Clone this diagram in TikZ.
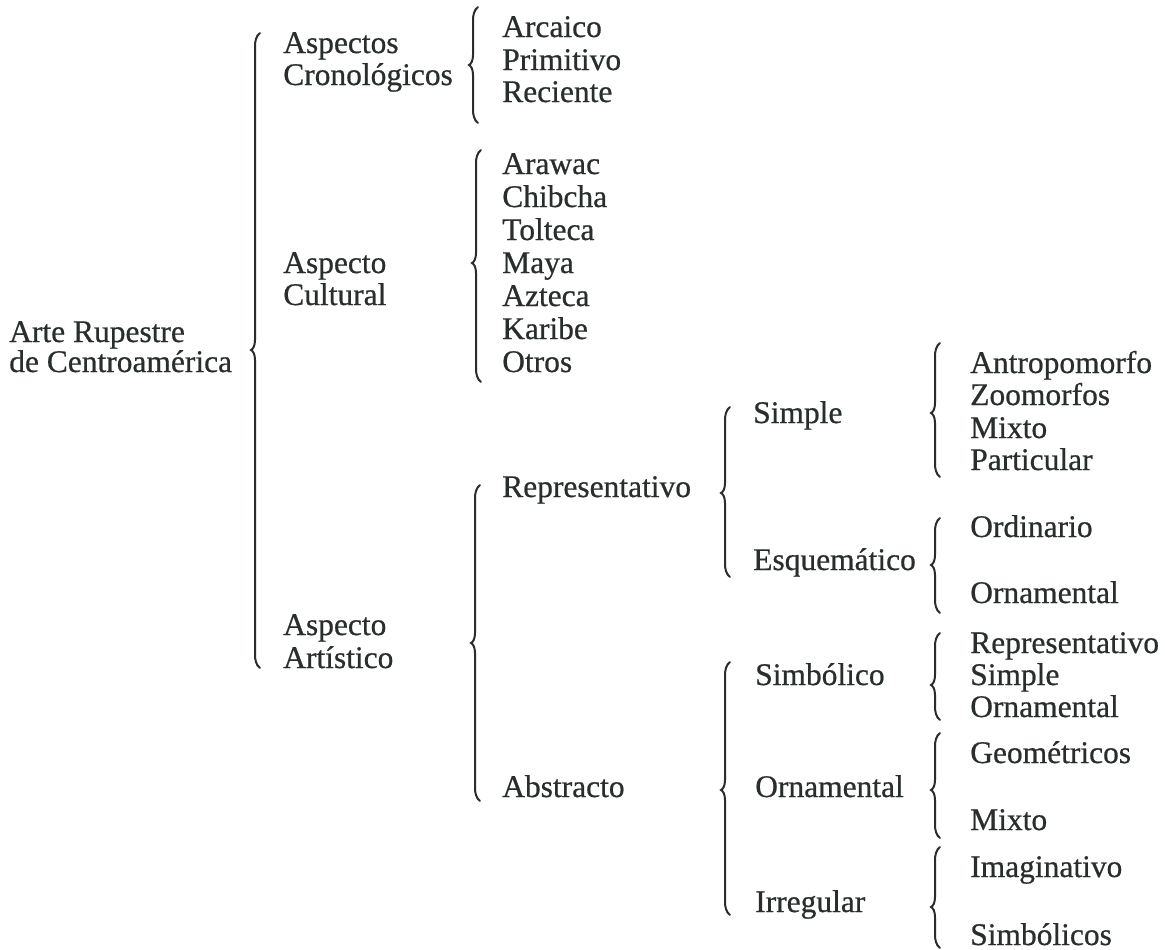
\documentclass[tikz,border=0pt]{standalone}
\usepackage{fontspec}
\setmainfont{Liberation Serif}[FakeBold=0.6]
\definecolor{ink}{RGB}{40,46,44}
\newcommand{\drawbrace}[4]{%
 \draw[bracestyle] (#1+5,#2) .. controls (#1+1,#2+3) and (#1,#2+8) .. (#1,#2+14)
   -- (#1,#3-10) .. controls (#1,#3-4) and (#1-2,#3-1) .. (#1-4,#3)
   .. controls (#1-2,#3+1) and (#1,#3+4) .. (#1,#3+10)
   -- (#1,#4-14) .. controls (#1,#4-8) and (#1+1,#4-3) .. (#1+5,#4);}
\tikzset{
  lbl/.style={anchor=base west, inner sep=0pt, text=ink, font=\fontsize{23.6}{28}\selectfont},
  bracestyle/.style={draw=ink, line width=1.5pt, line cap=round}
}
\begin{document}
\begin{tikzpicture}[x=0.75pt,y=-0.75pt]
\useasboundingbox[fill=white] (0,0) rectangle (1165,950);
% level 0
\node[lbl] (root1) at (9,342) {Arte Rupestre};
\node[lbl] (root2) at (9,372) {de Centroamérica};
% level 1
\node[lbl] (cro1) at (283,53) {Aspectos};
\node[lbl] (cro2) at (283,85) {Cronológicos};
\node[lbl] (cul1) at (283,273) {Aspecto};
\node[lbl] (cul2) at (283,305) {Cultural};
\node[lbl] (art1) at (283,635) {Aspecto};
\node[lbl] (art2) at (283,668) {Artístico};
% chronological
\node[lbl] (arc) at (502,37) {Arcaico};
\node[lbl] (pri) at (502,70) {Primitivo};
\node[lbl] (rec) at (502,102) {Reciente};
% cultural
\node[lbl] (ara) at (502,174) {Arawac};
\node[lbl] (chi) at (502,207) {Chibcha};
\node[lbl] (tol) at (502,240) {Tolteca};
\node[lbl] (may) at (502,273) {Maya};
\node[lbl] (azt) at (502,306) {Azteca};
\node[lbl] (kar) at (502,339) {Karibe};
\node[lbl] (otr) at (502,372) {Otros};
% artistic
\node[lbl] (rep) at (502,497) {Representativo};
\node[lbl] (abs) at (502,797) {Abstracto};
\node[lbl] (sim) at (753,423) {Simple};
\node[lbl] (esq) at (753,570) {Esquemático};
\node[lbl] (smb) at (755,685) {Simbólico};
\node[lbl] (orn) at (755,797) {Ornamental};
\node[lbl] (irr) at (755,912) {Irregular};
% leaves
\node[lbl] (ant) at (970,373) {Antropomorfo};
\node[lbl] (zoo) at (970,405) {Zoomorfos};
\node[lbl] (mix1) at (970,438) {Mixto};
\node[lbl] (par) at (970,470) {Particular};
\node[lbl] (ord) at (970,537) {Ordinario};
\node[lbl] (orn1) at (970,603) {Ornamental};
\node[lbl] (srep) at (970,653) {Representativo};
\node[lbl] (ssim) at (970,685) {Simple};
\node[lbl] (sorn) at (970,717) {Ornamental};
\node[lbl] (geo) at (970,763) {Geométricos};
\node[lbl] (mix2) at (970,830) {Mixto};
\node[lbl] (ima) at (970,877) {Imaginativo};
\node[lbl] (smbs) at (970,945) {Simbólicos};
% braces
\drawbrace{255}{33}{350}{668}
\drawbrace{473}{7}{65}{123}
\drawbrace{476}{150}{263}{382}
\drawbrace{475}{485}{643}{801}
\drawbrace{725}{407}{493}{577}
\drawbrace{935}{343}{413}{477}
\drawbrace{935}{518}{565}{613}
\drawbrace{725}{662}{790}{915}
\drawbrace{935}{633}{685}{720}
\drawbrace{935}{733}{790}{838}
\drawbrace{935}{847}{907}{948}
\end{tikzpicture}
\end{document}
